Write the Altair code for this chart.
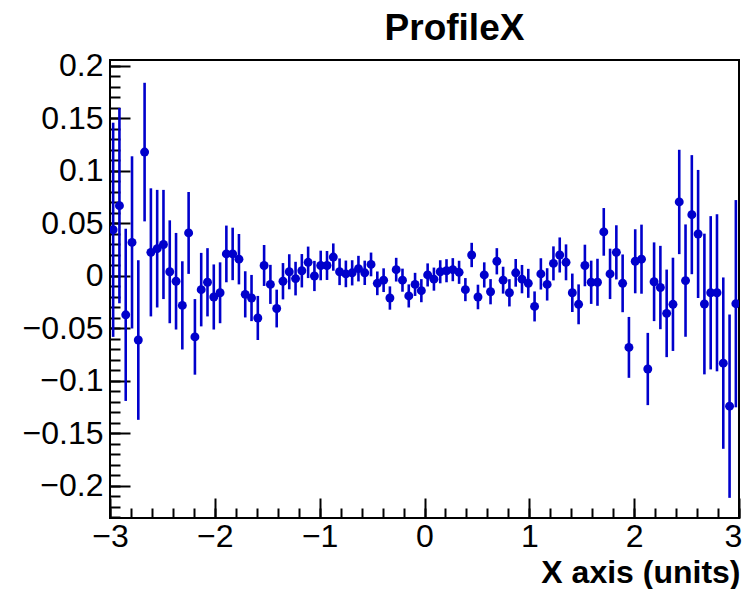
import altair as alt
import pandas as pd

# ---- data ----
x_lo, x_hi, n_bins = -3.0, 3.0, 100
bin_width = (x_hi - x_lo) / n_bins
x_centers = [round(x_lo + bin_width * (i + 0.5), 4) for i in range(n_bins)]

means = [
    0.044, 0.067, -0.037, 0.032, -0.061, 0.118, 0.0225, 0.026, 0.030, 0.004,
    -0.005, -0.028, 0.041, -0.058, -0.013, -0.006, -0.020, -0.016, 0.021, 0.021,
    0.016, -0.0175, -0.021, -0.040, 0.010, -0.008, -0.031, -0.005, 0.004, -0.0025,
    0.005, 0.013, 0.000, 0.010, 0.010, 0.018, 0.004, 0.002, 0.003, 0.007,
    0.003, 0.011, -0.007, -0.004, -0.021, 0.006, -0.004, -0.019, -0.008, -0.014,
    0.001, -0.003, 0.004, 0.005, 0.006, 0.0035, -0.013, 0.020, -0.020, 0.001,
    -0.015, 0.014, -0.004, -0.016, 0.003, -0.003, -0.007, -0.029, 0.002, -0.008,
    0.012, 0.020, 0.013, -0.016, -0.027, 0.010, -0.006, -0.006, 0.042, 0.002,
    0.0225, -0.007, -0.068, 0.014, 0.016, -0.0886, -0.0055, -0.011, -0.0356, -0.027,
    0.0705, -0.0044, 0.0584, 0.040, -0.0267, -0.016, -0.016, -0.083, -0.124, -0.0264,
]

errors = [
    0.102, 0.093, 0.082, 0.082, 0.076, 0.066, 0.061, 0.056, 0.052, 0.049,
    0.046, 0.042, 0.039, 0.036, 0.035, 0.0325, 0.031, 0.029, 0.027, 0.025,
    0.024, 0.022, 0.022, 0.021, 0.0195, 0.0186, 0.018, 0.0173, 0.0167, 0.016,
    0.0159, 0.015, 0.0144, 0.0141, 0.0138, 0.013, 0.0127, 0.0127, 0.012, 0.0122,
    0.0116, 0.0113, 0.0113, 0.0113, 0.0111, 0.0113, 0.011, 0.011, 0.011, 0.011,
    0.011, 0.011, 0.011, 0.011, 0.011, 0.011, 0.011, 0.0116, 0.0117, 0.012,
    0.012, 0.0125, 0.0128, 0.013, 0.0132, 0.0135, 0.0138, 0.0143, 0.0149, 0.0154,
    0.0162, 0.0167, 0.0171, 0.0183, 0.019, 0.0198, 0.0206, 0.0224, 0.0227, 0.024,
    0.0258, 0.0275, 0.029, 0.0305, 0.0329, 0.0344, 0.0375, 0.0397, 0.0417, 0.0444,
    0.0497, 0.0535, 0.0567, 0.061, 0.067, 0.073, 0.0748, 0.0816, 0.0873, 0.0987,
]

x_major = [-3, -2, -1, 0, 1, 2, 3]
x_minor = [round(-3 + 0.2 * k, 1) for k in range(31)]
y_major = [-0.2, -0.15, -0.1, -0.05, 0.0, 0.05, 0.1, 0.15, 0.2]
y_minor = [round(-0.23 + 0.01 * k, 2) for k in range(44)]

df = pd.DataFrame({"x": x_centers, "mean": means, "err": errors})
df["lo"] = df["mean"] - df["err"]
df["hi"] = df["mean"] + df["err"]

W, H = 629, 458
FONT = "Liberation Sans"
BLUE = "#0000cc"

x_scale = alt.Scale(domain=[-3, 3], nice=False, zero=False)
y_scale = alt.Scale(domain=[-0.2305, 0.2057], nice=False, zero=False)

base = alt.Chart(df)

# error bars, carrying the labelled axes
bars = base.mark_rule(color=BLUE, strokeWidth=2.6, clip=True).encode(
    x=alt.X("x:Q", scale=x_scale,
            axis=alt.Axis(orient="bottom", values=x_major, format="d",
                          ticks=False, domain=False, grid=False,
                          labelFont=FONT, labelFontSize=32, labelColor="black",
                          labelPadding=3, labelFlush=False, labelOverlap=False,
                          labelOffset={"condition": {"test": "datum.value == 3",
                                                     "value": -6},
                                       "value": 0},
                          title="X axis (units)", titleFont=FONT,
                          titleFontSize=32, titleFontWeight="bold",
                          titleColor="black", titleAnchor="end",
                          titleAlign="right", titleBaseline="alphabetic",
                          titleX=W + 1, titleY=64)),
    y=alt.Y("lo:Q", scale=y_scale,
            axis=alt.Axis(orient="left", values=y_major, format=".2~f",
                          ticks=False, domain=False, grid=False,
                          labelFont=FONT, labelFontSize=32, labelColor="black",
                          labelPadding=7, labelFlush=False, labelOverlap=False,
                          title=None)),
    y2="hi:Q",
)

# markers, carrying the major inner ticks
points = base.mark_point(filled=True, size=80, color=BLUE, opacity=1, clip=True).encode(
    x=alt.X("x:Q", scale=x_scale,
            axis=alt.Axis(orient="top", offset=-H, values=x_major,
                          labels=False, domain=False, grid=False,
                          tickSize=20, tickWidth=2, tickColor="black",
                          title=None)),
    y=alt.Y("mean:Q", scale=y_scale,
            axis=alt.Axis(orient="right", offset=-W, values=y_major,
                          labels=False, domain=False, grid=False,
                          tickSize=20, tickWidth=2, tickColor="black",
                          title=None)),
)

# invisible layer, carrying the minor inner ticks
minor = base.mark_point(opacity=0).encode(
    x=alt.X("x:Q", scale=x_scale,
            axis=alt.Axis(orient="top", offset=-H, values=x_minor,
                          labels=False, domain=False, grid=False,
                          tickSize=10, tickWidth=2, tickColor="black",
                          title=None)),
    y=alt.Y("mean:Q", scale=y_scale,
            axis=alt.Axis(orient="right", offset=-W, values=y_minor,
                          labels=False, domain=False, grid=False,
                          tickSize=10, tickWidth=2, tickColor="black",
                          title=None)),
)

chart = (
    alt.layer(minor, bars, points)
    .resolve_axis(x="independent", y="independent")
    .properties(
        width=W, height=H,
        title=alt.TitleParams("ProfileX", font=FONT, fontSize=37,
                              fontWeight="bold", color="black",
                              anchor="middle", dx=30, offset=2),
        padding={"left": 102, "top": 52, "right": 3, "bottom": 71},
        autosize=alt.AutoSizeParams(type="none"),
        background="white",
    )
    .configure_view(stroke="black", strokeWidth=2)
)

chart.save("out.html", embed_options={"renderer": "svg", "actions": False})
